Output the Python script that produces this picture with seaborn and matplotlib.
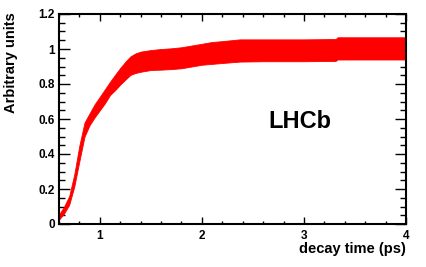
import numpy as np
import pandas as pd
import matplotlib
matplotlib.use("Agg")
import matplotlib.pyplot as plt
from matplotlib.ticker import MultipleLocator, FormatStrFormatter
import seaborn as sns

# ---- data ----
decay_time = [0.60, 0.65, 0.70, 0.75, 0.80, 0.85, 0.90, 0.95, 1.00, 1.05,
              1.10, 1.15, 1.20, 1.25, 1.30, 1.35, 1.40, 1.50, 1.60, 1.70,
              1.80, 1.90, 2.00, 2.10, 2.20, 2.37, 2.60, 3.00, 3.31, 3.33, 4.00]
band_lower = [0.025, 0.060, 0.110, 0.215, 0.360, 0.500, 0.565, 0.610, 0.650, 0.690,
              0.737, 0.765, 0.797, 0.825, 0.852, 0.863, 0.870, 0.880, 0.882, 0.885,
              0.890, 0.900, 0.910, 0.915, 0.920, 0.928, 0.930, 0.930, 0.932, 0.940, 0.940]
band_upper = [0.055, 0.100, 0.160, 0.285, 0.450, 0.580, 0.633, 0.685, 0.727, 0.770,
              0.813, 0.853, 0.892, 0.927, 0.958, 0.975, 0.985, 0.994, 1.000, 1.004,
              1.010, 1.020, 1.030, 1.040, 1.045, 1.055, 1.055, 1.055, 1.057, 1.067, 1.067]
x_ticks = [1, 2, 3, 4]
y_ticks = [0, 0.2, 0.4, 0.6, 0.8, 1.0, 1.2]

sns.set_style("ticks")
plt.rcParams['font.family'] = ['Liberation Sans', 'DejaVu Sans']
plt.rcParams['text.color'] = 'black'
plt.rcParams['axes.labelcolor'] = 'black'
plt.rcParams['xtick.color'] = 'black'
plt.rcParams['ytick.color'] = 'black'

df = pd.DataFrame({
    "t": decay_time + decay_time,
    "v": band_lower + band_upper,
})

fig = plt.figure(figsize=(4.27, 2.67), dpi=100)
ax = fig.add_axes([59/427, 1-224/267, (406-59)/427, (224-14)/267])

sns.lineplot(data=df, x="t", y="v", ax=ax, estimator="mean",
             errorbar=("pi", 100), color="#ff0000", linewidth=0,
             err_kws={"alpha": 1.0, "linewidth": 0.6, "edgecolor": "#ff0000"})

ax.set_xlim(0.6, 4.0)
ax.set_ylim(0, 1.2)
ax.xaxis.set_major_locator(MultipleLocator(1))
ax.xaxis.set_minor_locator(MultipleLocator(0.2))
ax.yaxis.set_major_locator(MultipleLocator(0.2))
ax.yaxis.set_minor_locator(MultipleLocator(0.05))
ax.yaxis.set_major_formatter(FormatStrFormatter('%g'))
ax.set_yticks(y_ticks)
ax.set_xticks(x_ticks)
ax.set_xticklabels([str(v) for v in x_ticks])

for s in ax.spines.values():
    s.set_linewidth(1.5)
    s.set_visible(True)
    s.set_color("black")

ax.tick_params(axis='both', which='both', direction='in', top=True, right=True,
               labelsize=8.5, width=1.0, colors='black', labelcolor='black')
ax.tick_params(axis='y', which='major', length=8, pad=3)
ax.tick_params(axis='y', which='minor', length=4)
ax.tick_params(axis='x', which='major', length=5, pad=4)
ax.tick_params(axis='x', which='minor', length=2.5)
for lab in ax.get_xticklabels() + ax.get_yticklabels():
    lab.set_fontweight('bold')
    lab.set_color('black')

ax.set_xlabel("")
ax.set_ylabel("")
fig.text(406/427, 1-249/267, "decay time (ps)", ha='right', va='center',
         fontsize=10.5, fontweight='bold', color='black')
fig.text(11/427, 1-12/267, "Arbitrary units", ha='center', va='top',
         rotation=90, fontsize=10.5, fontweight='bold', color='black')
ax.text(2.96, 0.585, "LHCb", transform=ax.transData, ha='center', va='center',
        fontsize=17, fontweight='bold', color='black')

fig.savefig("out.png", dpi=100)
